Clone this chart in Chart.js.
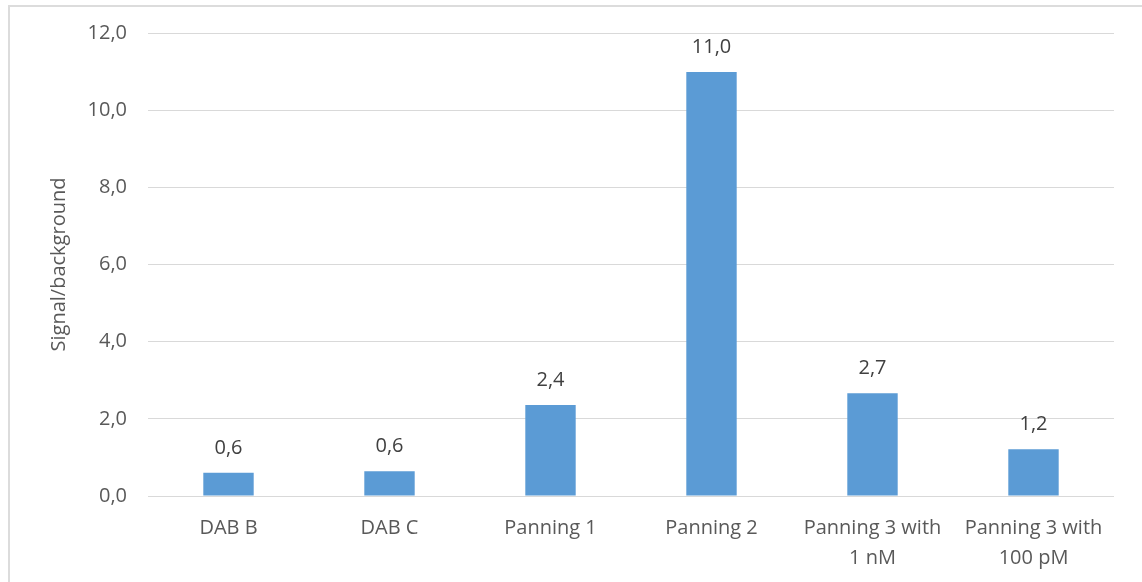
<!DOCTYPE html>
<html>
<head>
<meta charset="utf-8">
<script src="https://cdn.jsdelivr.net/npm/chart.js@4"></script>
<style>
  html, body { margin: 0; padding: 0; background: #fff; }
  #wrap { position: relative; width: 1142px; height: 582px; overflow: hidden; }
  #frame { position: absolute; left: 8px; top: 5px; width: 1200px; height: 700px; border: 2px solid #DCDCDC; box-sizing: border-box; }
  canvas { position: absolute; left: 0; top: 0; }
</style>
</head>
<body>
<div id="wrap">
  <div id="frame"></div>
  <canvas id="chart" width="1142" height="582"></canvas>
</div>
<script>
const categories = ['DAB B', 'DAB C', 'Panning 1', 'Panning 2', ['Panning 3 with', '1 nM'], ['Panning 3 with', '100 pM']];
const ratios = [0.60, 0.64, 2.36, 10.99, 2.66, 1.21];
const yTicks = [0, 2, 4, 6, 8, 10, 12];

function fmt(v) {
  return v.toFixed(1).replace('.', ',');
}

// value labels above each bar
const barLabels = {
  id: 'barLabels',
  afterDatasetsDraw(chart) {
    const ctx = chart.ctx;
    const meta = chart.getDatasetMeta(0);
    ctx.save();
    ctx.font = '20px "Open Sans"';
    ctx.fillStyle = '#404040';
    ctx.textAlign = 'center';
    ctx.textBaseline = 'middle';
    meta.data.forEach(function (bar, i) {
      ctx.fillText(fmt(ratios[i]), bar.x, bar.y - 25);
    });
    ctx.restore();
  }
};

document.addEventListener("DOMContentLoaded", function () {
  const ctx = document.getElementById('chart').getContext('2d');
  new Chart(ctx, {
    type: 'bar',
    data: {
      labels: categories,
      datasets: [{
        label: 'Signal/background',
        data: ratios,
        backgroundColor: '#5B9BD5',
        borderWidth: 0,
        barPercentage: 1,
        categoryPercentage: 0.313
      }]
    },
    options: {
      responsive: false,
      animation: false,
      layout: { padding: { left: 44, top: 31, right: 28, bottom: 0 } },
      plugins: {
        legend: { display: false },
        tooltip: { enabled: false }
      },
      scales: {
        x: {
          afterFit(scale) { scale.height = 86; },
          grid: { display: false, drawTicks: false },
          border: { display: false },
          ticks: {
            color: '#595959',
            font: { family: 'Open Sans', size: 20, lineHeight: 1.5 },
            padding: 17,
            maxRotation: 0
          }
        },
        y: {
          min: 0,
          max: 12,
          afterBuildTicks(scale) {
            scale.ticks = yTicks.map(v => ({ value: v }));
          },
          afterFit(scale) { scale.width = 104; },
          grid: { color: '#D9D9D9', lineWidth: 1, drawTicks: false },
          border: { display: false },
          ticks: {
            color: '#595959',
            font: { family: 'Open Sans', size: 20 },
            padding: 21,
            callback: v => fmt(v)
          },
          title: {
            display: true,
            text: 'Signal/background',
            color: '#595959',
            font: { family: 'Open Sans', size: 20 },
            padding: { top: 3, bottom: 0 }
          }
        }
      }
    },
    plugins: [barLabels]
  });
});
</script>
</body>
</html>
